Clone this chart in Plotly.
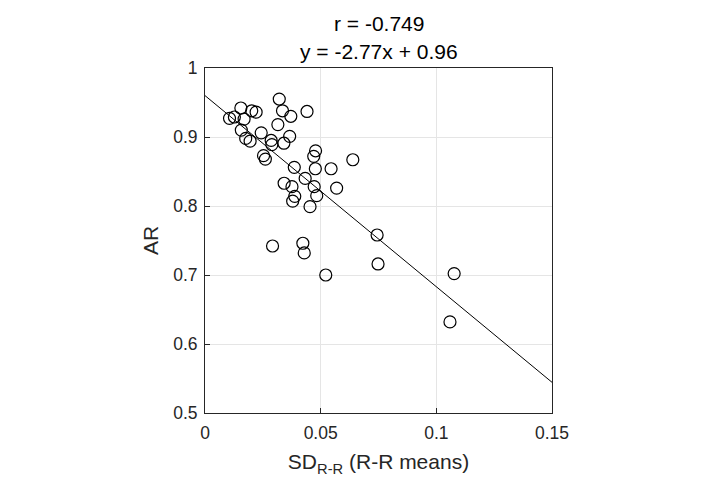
import plotly.graph_objects as go

sd_rr = [0.0321, 0.0155, 0.0202, 0.0221, 0.0335, 0.0371, 0.0441, 0.0106, 0.0127, 0.0169,
         0.0315, 0.0157, 0.0243, 0.0366, 0.0176, 0.0195, 0.0286, 0.0289, 0.0341, 0.0253,
         0.0261, 0.0478, 0.0470, 0.0639, 0.0386, 0.0477, 0.0545, 0.0433, 0.0342, 0.0376,
         0.0472, 0.0569, 0.0483, 0.0388, 0.0379, 0.0454, 0.0292, 0.0423, 0.0429, 0.0522,
         0.0744, 0.0748, 0.1077, 0.1059]
ar = [0.955, 0.942, 0.938, 0.936, 0.938, 0.930, 0.937, 0.927, 0.929, 0.926,
      0.918, 0.910, 0.906, 0.901, 0.898, 0.894, 0.895, 0.889, 0.891, 0.873,
      0.868, 0.880, 0.872, 0.867, 0.856, 0.854, 0.854, 0.840, 0.833, 0.828,
      0.828, 0.826, 0.815, 0.814, 0.807, 0.799, 0.742, 0.746, 0.732, 0.700,
      0.758, 0.716, 0.702, 0.632]

slope = -2.77
intercept = 0.96
fit_x = [0.0, 0.15]
fit_y = [slope * x + intercept for x in fit_x]

x_ticks = [0, 0.05, 0.1, 0.15]
x_tick_labels = ["0", "0.05", "0.1", "0.15"]
y_ticks = [0.5, 0.6, 0.7, 0.8, 0.9, 1.0]
y_tick_labels = ["0.5", "0.6", "0.7", "0.8", "0.9", "1"]

ink = "#262626"
font = "Liberation Sans, Arial, Helvetica, sans-serif"

fig = go.Figure()
fig.add_trace(go.Scatter(
    x=sd_rr, y=ar, mode="markers",
    marker=dict(symbol="circle-open", size=12, color="black", line=dict(width=1.2, color="black")),
    showlegend=False, cliponaxis=False))
fig.add_trace(go.Scatter(
    x=fit_x, y=fit_y, mode="lines",
    line=dict(color="black", width=1), showlegend=False))

axis_common = dict(
    showline=True, mirror=True, linecolor=ink, linewidth=1,
    ticks="inside", ticklen=5, tickcolor=ink, automargin=False,
    showgrid=True, gridcolor="#e5e5e5", gridwidth=1, zeroline=False,
    tickfont=dict(family=font, size=17.5, color=ink),
)

fig.update_layout(
    width=715, height=478, autosize=False,
    margin=dict(l=205, r=163, t=68, b=65),
    plot_bgcolor="white", paper_bgcolor="white",
    xaxis=dict(range=[0, 0.15], tickvals=x_ticks, ticktext=x_tick_labels,
               ticklabelstandoff=4,
               title=dict(text="SD<sub>R-R</sub> (R-R means)", standoff=12,
                          font=dict(family=font, size=21, color=ink)),
               **axis_common),
    yaxis=dict(range=[0.5, 1.0], tickvals=y_ticks, ticktext=y_tick_labels,
               ticklabelstandoff=3,
               title=dict(text="AR", standoff=8,
                          font=dict(family=font, size=21, color=ink)),
               **axis_common),
    annotations=[
        dict(text="r = -0.749", x=0.5, y=1.0 + (68 - 24) / 345.0, xref="paper", yref="paper",
             showarrow=False, yanchor="middle",
             font=dict(family=font, size=21, color="black")),
        dict(text="y = -2.77x + 0.96", x=0.5, y=1.0 + (68 - 52) / 345.0, xref="paper", yref="paper",
             showarrow=False, yanchor="middle",
             font=dict(family=font, size=21, color="black")),
    ],
)

fig.write_html("out.html")
